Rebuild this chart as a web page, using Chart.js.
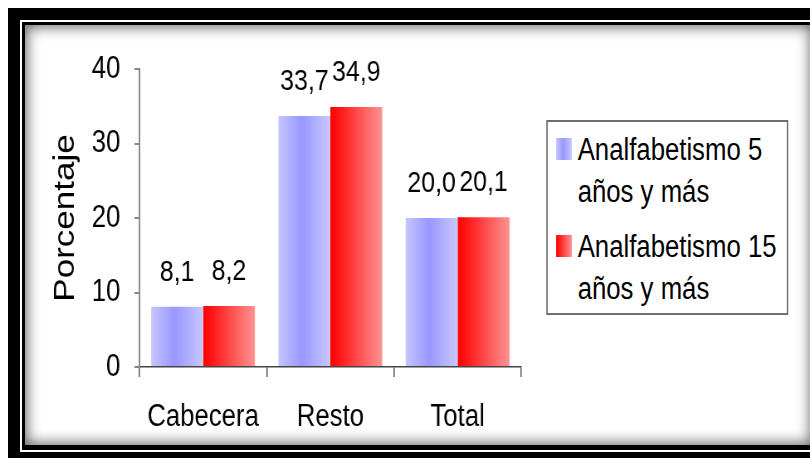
<!DOCTYPE html>
<html lang="es">
<head>
<meta charset="utf-8">
<script src="https://cdn.jsdelivr.net/npm/chart.js@4.4.1/dist/chart.umd.min.js"></script>
<style>
  html, body { margin: 0; padding: 0; background: #fff; }
  body { width: 810px; height: 458px; position: relative; overflow: hidden; font-family: 'Liberation Sans', Arial, sans-serif; }
  .frame-outer { position: absolute; left: 8px; top: 8px; width: 830px; height: 460px; background: #000; }
  .frame-line { position: absolute; left: 20px; top: 20px; width: 810px; height: 432px; border: 2px solid #fff; box-sizing: border-box; }
  .frame-panel { position: absolute; left: 25px; top: 25px; width: 787px; height: 420px; background: #fff; box-shadow: inset 0 0 14px 2px rgba(0,0,0,0.6); }
  /* the original picture is squeezed horizontally, so draw wide and squeeze */
  .chart-wrap { position: absolute; left: 0; top: 0; width: 976px; height: 458px; transform: scaleX(0.83); transform-origin: 0 0; }
  #legend { position: absolute; left: 658px; top: 120px; width: 292px; height: 195px; border: 2px solid #6e6e6e; box-sizing: border-box; background: #fff; padding-top: 7px; }
  .item { position: relative; padding-left: 36px; font-size: 31px; line-height: 42px; color: #000; margin-bottom: 13px; }
  .swatch { position: absolute; left: 10px; top: 9px; width: 19px; height: 22px; }
</style>
</head>
<body>
<div class="frame-outer"></div>
<div class="frame-line"></div>
<div class="frame-panel"></div>
<div class="chart-wrap">
  <canvas id="chart" width="976" height="458"></canvas>
  <div id="legend"></div>
</div>
<script>
const categories = ['Cabecera', 'Resto', 'Total'];
const seriesNames = ['Analfabetismo 5 años y más', 'Analfabetismo 15 años y más'];
const analfabetismo5 = [8.1, 33.7, 20.0];
const analfabetismo15 = [8.2, 34.9, 20.1];
const yTicks = [0, 10, 20, 30, 40];

const BLUE_STOPS = [[0, '#c6c6ff'], [0.45, '#9898ff'], [1, '#c8c8ff']];
const RED_STOPS = [[0, '#ff0000'], [0.2, '#ff1a1a'], [1, '#ff9494']];
const FONT = "'Liberation Sans', Arial, sans-serif";

function barFill(stops, fallback) {
  return (context) => {
    const el = context.element;
    if (!el || el.x == null || !el.width) return fallback;
    const g = context.chart.ctx.createLinearGradient(el.x - el.width / 2, 0, el.x + el.width / 2, 0);
    stops.forEach(([p, col]) => g.addColorStop(p, col));
    return g;
  };
}

const valueLabels = {
  id: 'valueLabels',
  afterDatasetsDraw(chart) {
    const c = chart.ctx;
    c.save();
    c.font = '30px ' + FONT;
    c.fillStyle = '#000';
    c.textAlign = 'center';
    c.textBaseline = 'alphabetic';
    chart.data.datasets.forEach((ds, di) => {
      chart.getDatasetMeta(di).data.forEach((bar, i) => {
        c.fillText(ds.data[i].toFixed(1).replace('.', ','), bar.x, bar.y - 26);
      });
    });
    c.restore();
  }
};

const ctx = document.getElementById('chart').getContext('2d');
const chart = new Chart(ctx, {
  type: 'bar',
  data: {
    labels: categories,
    datasets: [
      { label: seriesNames[0], data: analfabetismo5, stops: BLUE_STOPS,
        backgroundColor: barFill(BLUE_STOPS, '#a8a8ff'), borderWidth: 0,
        categoryPercentage: 0.816, barPercentage: 1 },
      { label: seriesNames[1], data: analfabetismo15, stops: RED_STOPS,
        backgroundColor: barFill(RED_STOPS, '#ff4040'), borderWidth: 0,
        categoryPercentage: 0.816, barPercentage: 1 }
    ]
  },
  options: {
    responsive: false,
    animation: false,
    layout: { padding: { left: 0, right: 348, top: 69, bottom: 0 } },
    plugins: { legend: { display: false }, tooltip: { enabled: false } },
    scales: {
      x: {
        grid: { drawOnChartArea: false, tickLength: 10, color: '#555', lineWidth: 1.5 },
        border: { color: '#444', width: 1.5 },
        ticks: { color: '#000', font: { size: 31, family: FONT }, padding: 22 },
        afterFit: (s) => { s.height = 91; }
      },
      y: {
        min: 0, max: 40,
        afterBuildTicks: (s) => { s.ticks = yTicks.map(v => ({ value: v })); },
        grid: { drawOnChartArea: false, tickLength: 6, color: '#888', lineWidth: 2 },
        border: { color: '#888', width: 2 },
        ticks: { color: '#000', font: { size: 31, family: FONT }, padding: 17 },
        title: { display: true, text: 'Porcentaje', color: '#000', font: { size: 35, family: FONT }, padding: { top: 58, bottom: 0 } },
        afterFit: (s) => { s.width = 168; }
      }
    }
  },
  plugins: [valueLabels]
});
// second pass so the gradients can read the bar positions
chart.update();

const legend = document.getElementById('legend');
chart.data.datasets.forEach(ds => {
  const item = document.createElement('div');
  item.className = 'item';
  const sw = document.createElement('span');
  sw.className = 'swatch';
  sw.style.background = 'linear-gradient(to right, ' + ds.stops.map(([p, c]) => c + ' ' + (p * 100) + '%').join(', ') + ')';
  item.appendChild(sw);
  item.appendChild(document.createTextNode(ds.label));
  legend.appendChild(item);
});
</script>
</body>
</html>
